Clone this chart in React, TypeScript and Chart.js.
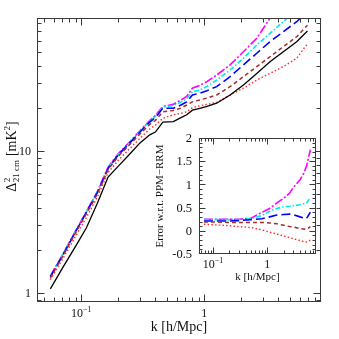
import React, { useEffect, useRef } from "react";
import { Chart, registerables } from "chart.js";
Chart.register(...registerables);

// ---------- main panel data: Delta^2_21cm [mK^2] vs k [h/Mpc] ----------
const K = [0.056, 0.07, 0.09, 0.11, 0.135, 0.165, 0.2, 0.25, 0.3, 0.36, 0.4, 0.46, 0.56, 0.64, 0.72, 0.8, 0.92, 1.05, 1.26, 1.62, 2.08, 2.67, 3.42, 4.39, 5.64, 6.9];
const P_BLACK = [1.07, 1.49, 2.14, 2.88, 4.29, 6.56, 7.83, 9.6, 11.4, 13.0, 13.6, 16.0, 16.1, 17.1, 18.0, 19.4, 20.0, 20.6, 21.7, 24.8, 29.2, 35.2, 42.6, 50.0, 58.9, 70.0];
const P_MAGENTA = [1.32, 1.85, 2.75, 3.75, 5.2, 7.7, 9.6, 11.7, 13.9, 16.4, 17.8, 20.6, 21.3, 22.8, 24.2, 27.7, 29.0, 30.8, 34.3, 40.4, 50.0, 62.2, 86.0, 115, 150, 190];
const P_CYAN = [1.31, 1.84, 2.73, 3.72, 5.15, 7.6, 9.5, 11.6, 13.8, 16.2, 17.5, 20.4, 20.9, 22.0, 23.3, 26.2, 26.9, 28.5, 31.6, 37.2, 45.0, 55.7, 67.4, 81.4, 99, 119];
const P_BLUE = [1.30, 1.82, 2.71, 3.70, 5.1, 7.55, 9.4, 11.5, 13.6, 16.0, 17.2, 20.0, 20.0, 21.0, 22.2, 24.8, 25.5, 26.6, 28.4, 33.4, 40.4, 48.8, 58.9, 69.2, 81.4, 96];
const P_BROWN = [1.28, 1.79, 2.66, 3.62, 5.0, 7.4, 9.2, 11.2, 13.2, 15.4, 16.4, 18.9, 19.3, 20.0, 21.1, 22.2, 22.9, 23.6, 24.8, 28.4, 33.4, 39.3, 46.1, 54.3, 63.8, 77];
const P_RED = [1.24, 1.72, 2.52, 3.4, 4.75, 7.05, 8.6, 10.5, 12.3, 14.3, 15.2, 17.0, 18.0, 18.4, 18.9, 20.2, 20.8, 21.3, 22.0, 24.8, 27.7, 31.6, 35.2, 39.3, 45.0, 57];

// ---------- inset data: error w.r.t. PPM-RRM ----------
const K_ERR = [0.068, 0.1, 0.2, 0.3, 0.5, 0.8, 1.1, 1.5, 2.0, 2.6, 3.0, 4.0, 4.6, 5.3, 6.2];
const E_MAGENTA = [0.25, 0.25, 0.25, 0.25, 0.27, 0.40, 0.48, 0.60, 0.70, 0.82, 0.93, 1.10, 1.22, 1.40, 1.75];
const E_CYAN = [0.24, 0.24, 0.24, 0.24, 0.26, 0.33, 0.42, 0.48, 0.52, 0.53, 0.54, 0.56, 0.58, 0.60, 0.72];
const E_BLUE = [0.21, 0.21, 0.21, 0.22, 0.24, 0.26, 0.30, 0.34, 0.35, 0.36, 0.35, 0.30, 0.28, 0.27, 0.40];
const E_BROWN = [0.19, 0.19, 0.18, 0.18, 0.18, 0.18, 0.17, 0.15, 0.12, 0.09, 0.08, 0.05, 0.04, 0.03, 0.09];
const E_RED = [0.14, 0.13, 0.11, 0.09, 0.07, 0.02, -0.03, -0.07, -0.11, -0.15, -0.17, -0.21, -0.23, -0.24, -0.20];

// ---------- ticks ----------
const X_MAJOR = [0.1, 1];
const X_MINOR = [0.04, 0.05, 0.06, 0.07, 0.08, 0.09, 0.2, 0.3, 0.4, 0.5, 0.6, 0.7, 0.8, 0.9, 2, 3, 4, 5, 6, 7, 8];
const Y_MAJOR = [1, 10];
const Y_MINOR = [0.9, 2, 3, 4, 5, 6, 7, 8, 9, 20, 30, 40, 50, 60, 70, 80];
const IY_MAJOR = [-0.5, 0, 0.5, 1, 1.5, 2];
const IY_MINOR = [-0.4, -0.3, -0.2, -0.1, 0.1, 0.2, 0.3, 0.4, 0.6, 0.7, 0.8, 0.9, 1.1, 1.2, 1.3, 1.4, 1.6, 1.7, 1.8, 1.9];
const IY_LABELS = ["-0.5", "0", "0.5", "1", "1.5", "2"];

const STYLES = [
  { color: "#000000", dash: [] as number[], width: 1.3 },
  { color: "#ff2a2a", dash: [1.5, 2.2], width: 1.4 },
  { color: "#a52a2a", dash: [4, 3], width: 1.5 },
  { color: "#0000ff", dash: [9, 4], width: 1.6 },
  { color: "#00e8e8", dash: [5, 2, 1.5, 2], width: 1.6 },
  { color: "#ff00ff", dash: [9, 2, 2, 2], width: 1.6 },
];

const SERIF = '"Liberation Serif", "DejaVu Serif", serif';

type Run = { t: string; size: number; dy?: number };

function drawRuns(ctx: CanvasRenderingContext2D, runs: Run[], x: number, y: number, align: "left" | "center" | "right") {
  let w = 0;
  for (const r of runs) {
    ctx.font = `${r.size}px ${SERIF}`;
    w += ctx.measureText(r.t).width;
  }
  let cx = align === "center" ? x - w / 2 : align === "right" ? x - w : x;
  for (const r of runs) {
    ctx.font = `${r.size}px ${SERIF}`;
    ctx.fillText(r.t, cx, y + (r.dy || 0));
    cx += ctx.measureText(r.t).width;
  }
}

type AxCfg = {
  xMajor: number[]; xMinor: number[]; yMajor: number[]; yMinor: number[];
  majLen: number; minLen: number;
  xLabels: { v: number; runs: Run[] }[]; xLabelY: number;
  yLabels: { v: number; t: string }[]; yLabelX: number; yLabelSize: number;
  xTitle: string; xTitleY: number; xTitleSize: number;
  drawYTitle: (ctx: CanvasRenderingContext2D) => void;
  fill?: boolean;
};

function makePlugin(cfg: AxCfg) {
  return {
    id: "frameTicks",
    beforeDatasetsDraw(chart: any) {
      if (!cfg.fill) return;
      const { ctx, chartArea: a } = chart;
      ctx.save();
      ctx.fillStyle = "#ffffff";
      ctx.fillRect(a.left, a.top, a.right - a.left, a.bottom - a.top);
      ctx.restore();
    },
    afterDraw(chart: any) {
      const { ctx, chartArea: a } = chart;
      const xs = chart.scales.x, ys = chart.scales.y;
      const L = Math.round(a.left) + 0.5, R = Math.round(a.right) - 0.5;
      const T = Math.round(a.top) + 0.5, B = Math.round(a.bottom) - 0.5;
      ctx.save();
      ctx.strokeStyle = "#3a3a3a";
      ctx.lineWidth = 1;
      ctx.setLineDash([]);
      ctx.strokeRect(L, T, R - L, B - T);
      ctx.beginPath();
      const xt = (vals: number[], len: number) => {
        for (const v of vals) {
          const p = Math.round(xs.getPixelForValue(v)) + 0.5;
          if (p < L || p > R) continue;
          ctx.moveTo(p, B); ctx.lineTo(p, B - len);
          ctx.moveTo(p, T); ctx.lineTo(p, T + len);
        }
      };
      const yt = (vals: number[], len: number) => {
        for (const v of vals) {
          const p = Math.round(ys.getPixelForValue(v)) + 0.5;
          if (p < T || p > B) continue;
          ctx.moveTo(L, p); ctx.lineTo(L + len, p);
          ctx.moveTo(R, p); ctx.lineTo(R - len, p);
        }
      };
      xt(cfg.xMajor, cfg.majLen); xt(cfg.xMinor, cfg.minLen);
      yt(cfg.yMajor, cfg.majLen); yt(cfg.yMinor, cfg.minLen);
      ctx.stroke();

      ctx.fillStyle = "#111111";
      ctx.textBaseline = "alphabetic";
      for (const l of cfg.xLabels) {
        drawRuns(ctx, l.runs, xs.getPixelForValue(l.v), cfg.xLabelY, "center");
      }
      for (const l of cfg.yLabels) {
        drawRuns(ctx, [{ t: l.t, size: cfg.yLabelSize }], cfg.yLabelX, ys.getPixelForValue(l.v) + cfg.yLabelSize * 0.33, "right");
      }
      drawRuns(ctx, [{ t: cfg.xTitle, size: cfg.xTitleSize }], (a.left + a.right) / 2, cfg.xTitleY, "center");
      cfg.drawYTitle(ctx);
      ctx.restore();
    },
  };
}

function mainYTitle(ctx: CanvasRenderingContext2D) {
  ctx.save();
  ctx.translate(12, 157);
  ctx.rotate(-Math.PI / 2);
  const big = 14, small = 9;
  ctx.font = `${big}px ${SERIF}`;
  const wD = ctx.measureText("\u0394").width;
  const wB1 = ctx.measureText(" [mK").width;
  const wB2 = ctx.measureText("]").width;
  ctx.font = `${small}px ${SERIF}`;
  const wSup = ctx.measureText("2").width;
  const wSub = ctx.measureText("21 cm").width;
  const total = wD + Math.max(wSup, wSub) + wB1 + wSup + wB2;
  let x = -total / 2;
  const base = 4;
  ctx.font = `${big}px ${SERIF}`;
  ctx.fillText("\u0394", x, base); x += wD;
  ctx.font = `${small}px ${SERIF}`;
  ctx.fillText("2", x + 0.5, base - 6);
  ctx.fillText("21 cm", x + 0.5, base + 3);
  x += Math.max(wSup, wSub) + 1;
  ctx.font = `${big}px ${SERIF}`;
  ctx.fillText(" [mK", x, base); x += wB1;
  ctx.font = `${small}px ${SERIF}`;
  ctx.fillText("2", x, base - 6); x += wSup;
  ctx.font = `${big}px ${SERIF}`;
  ctx.fillText("]", x, base);
  ctx.restore();
}

function insetYTitle(ctx: CanvasRenderingContext2D) {
  ctx.save();
  ctx.translate(10, 68);
  ctx.rotate(-Math.PI / 2);
  ctx.font = `11px ${SERIF}`;
  ctx.textAlign = "center";
  ctx.fillText("Error w.r.t. PPM\u2212RRM", 0, 3);
  ctx.restore();
}

function datasets(xs: number[], series: number[][]) {
  return series.map((vals, i) => ({
    data: xs.map((x, j) => ({ x, y: vals[j] })),
    borderColor: STYLES[i].color,
    borderDash: STYLES[i].dash,
    borderWidth: STYLES[i].width,
    pointRadius: 0,
    fill: false,
    tension: 0,
  }));
}

const hiddenScale = (extra: any) => ({
  ticks: { display: false },
  grid: { display: false },
  border: { display: false },
  title: { display: false },
  ...extra,
});

export default function App() {
  const mainRef = useRef<HTMLCanvasElement>(null);
  const insetRef = useRef<HTMLCanvasElement>(null);

  useEffect(() => {
    document.body.style.margin = "0";
    const tenM1: Run[] = [{ t: "10", size: 12 }, { t: "\u22121", size: 8, dy: -5 }];
    const main = new Chart(mainRef.current!, {
      type: "line",
      data: { datasets: datasets(K, [P_BLACK, P_RED, P_BROWN, P_BLUE, P_CYAN, P_MAGENTA]) as any },
      options: {
        animation: false,
        responsive: false,
        devicePixelRatio: 1,
        events: [],
        layout: { padding: { left: 0, right: 18, top: 18, bottom: 0 } },
        plugins: { legend: { display: false }, tooltip: { enabled: false } },
        scales: {
          x: hiddenScale({ type: "logarithmic", min: 0.0436, max: 8.89, afterFit: (s: any) => { s.height = 37; } }),
          y: hiddenScale({ type: "logarithmic", min: 0.8643, max: 86.45, afterFit: (s: any) => { s.width = 37; } }),
        },
      } as any,
      plugins: [makePlugin({
        xMajor: X_MAJOR, xMinor: X_MINOR, yMajor: Y_MAJOR, yMinor: Y_MINOR,
        majLen: 7, minLen: 4,
        xLabels: [{ v: 0.1, runs: tenM1 }, { v: 1, runs: [{ t: "1", size: 12 }] }], xLabelY: 317,
        yLabels: [{ v: 1, t: "1" }, { v: 10, t: "10" }], yLabelX: 31, yLabelSize: 12,
        xTitle: "k [h/Mpc]", xTitleY: 331, xTitleSize: 14,
        drawYTitle: mainYTitle,
      })],
    });

    const inset = new Chart(insetRef.current!, {
      type: "line",
      data: { datasets: datasets(K_ERR, [[], E_RED, E_BROWN, E_BLUE, E_CYAN, E_MAGENTA]).slice(1) as any },
      options: {
        animation: false,
        responsive: false,
        devicePixelRatio: 1,
        events: [],
        layout: { padding: { left: 0, right: 14, top: 10, bottom: 0 } },
        plugins: { legend: { display: false }, tooltip: { enabled: false } },
        scales: {
          x: hiddenScale({ type: "logarithmic", min: 0.0551, max: 7.88, afterFit: (s: any) => { s.height = 34; } }),
          y: hiddenScale({ type: "linear", min: -0.5, max: 2, afterFit: (s: any) => { s.width = 49; } }),
        },
      } as any,
      plugins: [makePlugin({
        xMajor: X_MAJOR, xMinor: X_MINOR, yMajor: IY_MAJOR, yMinor: IY_MINOR,
        majLen: 6, minLen: 3,
        xLabels: [{ v: 0.1, runs: tenM1 }, { v: 1, runs: [{ t: "1", size: 12 }] }], xLabelY: 140,
        yLabels: IY_MAJOR.map((v, i) => ({ v, t: IY_LABELS[i] })), yLabelX: 42, yLabelSize: 12.5,
        xTitle: "k [h/Mpc]", xTitleY: 152, xTitleSize: 11,
        drawYTitle: insetYTitle,
        fill: true,
      })],
    });

    return () => { main.destroy(); inset.destroy(); };
  }, []);

  return (
    <div style={{ position: "relative", width: 339, height: 339, background: "#fff" }}>
      <canvas ref={mainRef} width={339} height={339} style={{ position: "absolute", left: 0, top: 0, width: 339, height: 339 }} />
      <canvas ref={insetRef} width={180} height={160} style={{ position: "absolute", left: 150, top: 128, width: 180, height: 160 }} />
    </div>
  );
}
